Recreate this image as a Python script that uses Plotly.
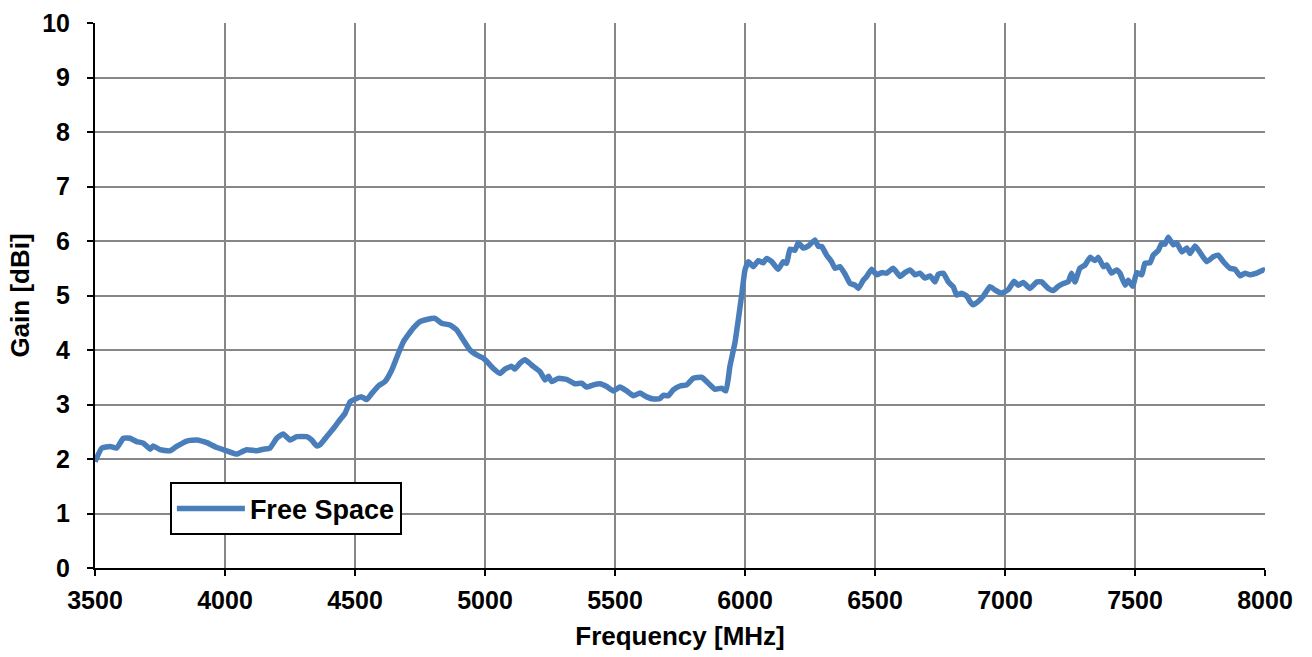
import plotly.graph_objects as go

freq_mhz = [
    3500, 3526, 3558, 3583, 3609, 3635, 3660, 3686, 3712, 3724, 3750, 3788, 3814, 3853, 3891, 3930,
    3968, 4007, 4045, 4083, 4122, 4147, 4173, 4199, 4224, 4250, 4276, 4314, 4333, 4353, 4365, 4391,
    4417, 4442, 4462, 4481, 4506, 4526, 4545, 4564, 4590, 4615, 4641, 4667, 4686, 4705, 4724, 4750,
    4776, 4808, 4833, 4865, 4891, 4917, 4942, 4968, 4994, 5007, 5032, 5058, 5077, 5103, 5115, 5135,
    5154, 5180, 5212, 5231, 5244, 5257, 5282, 5314, 5346, 5372, 5391, 5417, 5442, 5468, 5494, 5519,
    5545, 5571, 5596, 5622, 5648, 5673, 5686, 5705, 5724, 5750, 5776, 5801, 5833, 5859, 5885, 5910,
    5927, 5942, 5962, 5974, 5987, 6000, 6013, 6032, 6051, 6070, 6083, 6103, 6128, 6147, 6160, 6173,
    6192, 6205, 6224, 6244, 6269, 6282, 6295, 6314, 6333, 6346, 6365, 6385, 6404, 6423, 6436, 6455,
    6468, 6487, 6507, 6526, 6545, 6570, 6596, 6615, 6635, 6654, 6673, 6692, 6712, 6731, 6743, 6763,
    6782, 6801, 6814, 6833, 6853, 6865, 6878, 6897, 6917, 6942, 6962, 6987, 7013, 7035, 7051, 7070,
    7096, 7123, 7141, 7154, 7167, 7186, 7205, 7224, 7243, 7256, 7269, 7288, 7308, 7327, 7346, 7359,
    7378, 7391, 7410, 7429, 7442, 7462, 7474, 7491, 7507, 7526, 7538, 7558, 7570, 7590, 7603, 7615,
    7628, 7647, 7660, 7680, 7699, 7712, 7731, 7750, 7776, 7801, 7820, 7840, 7865, 7885, 7904, 7923,
    7942, 7968, 7994, 8000,
]

gain_dbi = [
    1.95, 2.20, 2.23, 2.20, 2.38, 2.38, 2.32, 2.29, 2.18, 2.24, 2.17, 2.15, 2.23, 2.33, 2.35, 2.30,
    2.21, 2.15, 2.09, 2.17, 2.15, 2.18, 2.20, 2.38, 2.46, 2.35, 2.41, 2.41, 2.35, 2.24, 2.26, 2.41,
    2.56, 2.72, 2.84, 3.05, 3.11, 3.14, 3.09, 3.20, 3.34, 3.42, 3.63, 3.94, 4.15, 4.28, 4.40, 4.52,
    4.56, 4.58, 4.49, 4.46, 4.37, 4.18, 4.00, 3.91, 3.85, 3.79, 3.66, 3.57, 3.65, 3.70, 3.65, 3.76,
    3.82, 3.72, 3.60, 3.45, 3.52, 3.42, 3.48, 3.46, 3.38, 3.39, 3.32, 3.36, 3.38, 3.33, 3.25, 3.32,
    3.25, 3.16, 3.21, 3.14, 3.10, 3.11, 3.17, 3.16, 3.27, 3.34, 3.36, 3.48, 3.50, 3.39, 3.28, 3.30,
    3.25, 3.70, 4.15, 4.55, 5.00, 5.47, 5.62, 5.53, 5.64, 5.60, 5.68, 5.62, 5.48, 5.62, 5.59, 5.85,
    5.83, 5.97, 5.87, 5.91, 6.02, 5.90, 5.90, 5.74, 5.62, 5.50, 5.53, 5.39, 5.22, 5.19, 5.13, 5.28,
    5.35, 5.48, 5.38, 5.42, 5.41, 5.50, 5.35, 5.42, 5.47, 5.38, 5.41, 5.32, 5.36, 5.25, 5.39, 5.41,
    5.25, 5.16, 5.01, 5.04, 4.99, 4.89, 4.83, 4.89, 4.99, 5.16, 5.10, 5.04, 5.11, 5.26, 5.19, 5.24,
    5.13, 5.25, 5.25, 5.19, 5.13, 5.09, 5.17, 5.22, 5.25, 5.41, 5.25, 5.50, 5.56, 5.70, 5.64, 5.70,
    5.53, 5.56, 5.41, 5.47, 5.41, 5.19, 5.28, 5.17, 5.42, 5.38, 5.59, 5.60, 5.74, 5.83, 5.96, 5.94,
    6.07, 5.93, 5.97, 5.80, 5.87, 5.77, 5.91, 5.79, 5.62, 5.71, 5.74, 5.62, 5.50, 5.48, 5.36, 5.41,
    5.38, 5.41, 5.47, 5.46,
]

x_ticks = [3500, 4000, 4500, 5000, 5500, 6000, 6500, 7000, 7500, 8000]
y_ticks = [0, 1, 2, 3, 4, 5, 6, 7, 8, 9, 10]

FONT = "Liberation Sans, Arial, sans-serif"

fig = go.Figure()
fig.add_trace(go.Scatter(
    x=freq_mhz, y=gain_dbi, mode="lines", name="Free Space",
    line=dict(color="#4a7ebb", width=5.5, shape="spline", smoothing=0.4),
))

axis_common = dict(
    showline=True, linecolor="black", linewidth=2,
    showgrid=True, gridcolor="#878787", gridwidth=2,
    ticks="outside", ticklen=6, tickwidth=2, tickcolor="black",
    tickfont=dict(family=FONT, size=25, color="black", weight="bold"),
    zeroline=False, mirror=False,
)

fig.update_xaxes(
    range=[3500, 8000], tickvals=x_ticks, ticktext=[str(v) for v in x_ticks],
    ticklabelstandoff=3, automargin="bottom",
    title=dict(text="<b>Frequency [MHz]</b>", font=dict(family=FONT, size=26, color="black"), standoff=14),
    **axis_common,
)
fig.update_yaxes(
    range=[0, 10], tickvals=y_ticks, ticktext=[str(v) for v in y_ticks],
    ticklabelstandoff=12, automargin="left",
    title=dict(text="<b>Gain [dBi]</b>", font=dict(family=FONT, size=26, color="black"), standoff=5),
    **axis_common,
)

fig.update_layout(
    width=1312, height=657,
    margin=dict(l=95, r=47, t=23, b=89),
    plot_bgcolor="white", paper_bgcolor="white",
    showlegend=True,
    legend=dict(
        x=0.064, y=0.157, xanchor="left", yanchor="top",
        bgcolor="white", bordercolor="black", borderwidth=2,
        font=dict(family=FONT, size=27, color="black", weight="bold"),
        itemwidth=68,
    ),
)

fig.write_html("out.html")
